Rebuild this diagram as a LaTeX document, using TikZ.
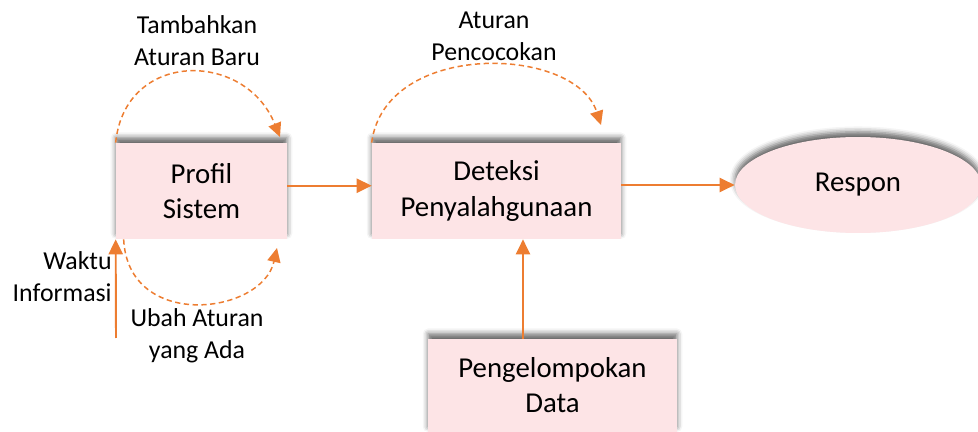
\documentclass[tikz,border=0pt]{standalone}
\usepackage{fontspec}
\setmainfont{Carlito}
\usetikzlibrary{arrows.meta,positioning,calc,shapes.geometric,shadows.blur}
\definecolor{boxpink}{HTML}{FDE4E6}
\definecolor{aluror}{HTML}{ED7D31}
\tikzset{
  procbox/.style={fill=boxpink, inner sep=0pt, align=center,
                  font=\fontsize{16.4}{20}\selectfont,
                  blur shadow={shadow xshift=0pt, shadow yshift=3pt,
                               shadow blur radius=3pt, shadow opacity=60}},
  alur/.style={-{Triangle[length=8.5pt,width=8pt]}, draw=aluror, line width=1.1pt},
  alurputus/.style={-{Triangle[length=8pt,width=7.5pt]}, draw=aluror, line width=0.85pt,
                    dash pattern=on 3pt off 2pt},
  ket/.style={inner sep=0pt, align=center, font=\fontsize{14.7}{18.2}\selectfont},
}
\begin{document}
\begin{tikzpicture}[x=0.02cm,y=-0.02cm]
\useasboundingbox (0,0) rectangle (978,432);
% proses utama
\node[procbox, minimum width=3.42cm, minimum height=1.92cm] (profil) at (201.5,191)
  {Profil\\Sistem};
\node[procbox, minimum width=4.98cm, minimum height=1.92cm] (deteksi) at (496.5,191)
  {Deteksi\\Penyalahgunaan};
\node[procbox, minimum width=4.98cm, minimum height=1.86cm] (kelompok) at (552.5,385.5)
  {Pengelompokan\\Data};
\node[procbox, ellipse, minimum width=4.92cm, minimum height=1.92cm] (respon) at (858,185)
  {Respon};
% keterangan
\node[ket] (ktambah) at (197,41) {Tambahkan\\Aturan Baru};
\node[ket] (kcocok) at (494,36) {Aturan\\Pencocokan};
\node[ket] (kubah) at (197,336) {Ubah Aturan\\yang Ada};
\node[ket, align=right, anchor=east] (kwaktu) at (112,277) {Waktu\\Informasi};
% ujung bebas
\coordinate (waktu0) at (116,338);
\coordinate (tambah1) at (280,137);
\coordinate (cocok1) at (601,125);
\coordinate (ubah1) at (277,248);
% panah
\draw[alur] ([yshift=3pt]profil.east) -- ([yshift=3pt]deteksi.west);
\draw[alur] (deteksi.east |- respon.west) -- (respon.west);
\draw[alur] (kelompok.north) ++(-29.5,0) coordinate (k1) -- (k1 |- deteksi.south);
\draw[alur] (waktu0) -- (profil.south west);
\draw[alurputus] (profil.north west) .. controls (125,50) and (245,50) .. (tambah1);
\draw[alurputus] (deteksi.north west) .. controls (385,40) and (575,45) .. (cocok1);
\draw[alurputus] ($(profil.south west)+(8,0)$) .. controls (128,331) and (262,315) .. (ubah1);
\end{tikzpicture}
\end{document}
